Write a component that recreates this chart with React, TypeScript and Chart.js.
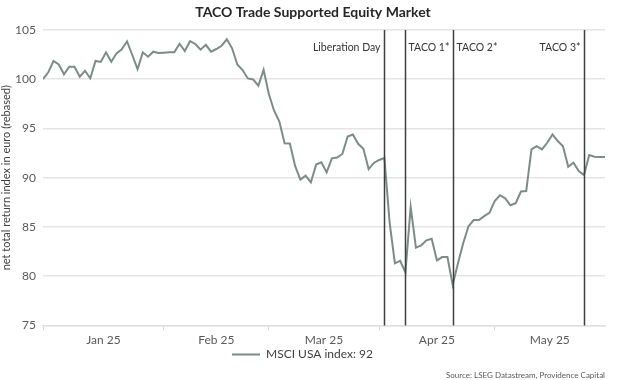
import React, { useEffect, useRef } from "react";
import { Chart, registerables } from "chart.js";

Chart.register(...registerables);

// ---- data (weekday closes, 1 Jan 2025 – 30 May 2025) ----
const msciUsa: number[] = [
  100.0, 100.7, 101.85, 101.5, 100.5, 101.27, 101.27, 100.25, 100.86, 100.1,
  101.85, 101.75, 102.73, 101.78, 102.63, 103.03, 103.85, 102.46, 101.03, 102.73,
  102.29, 102.8, 102.66, 102.7, 102.73, 102.73, 103.6, 102.86, 103.88, 103.58,
  103.0, 103.5, 102.8, 103.07, 103.4, 104.05, 103.14, 101.5, 100.93, 100.08,
  99.98, 99.34, 100.95, 98.5, 96.8, 95.7, 93.5, 93.47, 91.2, 89.8,
  90.2, 89.52, 91.33, 91.56, 90.54, 91.97, 92.04, 92.41, 94.18, 94.39,
  93.44, 92.93, 90.88, 91.5, 91.8, 92.0, 85.4, 81.3, 81.55, 80.38,
  87.04, 82.9, 83.13, 83.64, 83.8, 81.6, 81.94, 81.94, 79.1, 81.3,
  83.34, 85.05, 85.7, 85.7, 86.1, 86.43, 87.62, 88.22, 87.9, 87.2,
  87.42, 88.6, 88.64, 92.87, 93.2, 92.87, 93.55, 94.39, 93.72, 93.2,
  91.1, 91.52, 90.68, 90.27, 92.3, 92.13, 92.1, 92.1,
];
const seriesLabel = "MSCI USA index: 92";

const monthLabels: string[] = ["Jan 25", "Feb 25", "Mar 25", "Apr 25", "May 25"];
const monthStartIndex: number[] = [0, 23, 43, 64, 86];

const yTicks: number[] = [75, 80, 85, 90, 95, 100, 105];

const eventLabels: string[] = ["Liberation Day", "TACO 1*", "TACO 2*", "TACO 3*"];
const eventIndex: number[] = [65, 69, 78, 103];
const eventLabelSide: ("left" | "right")[] = ["left", "right", "right", "left"];

const titleText = "TACO Trade Supported Equity Market";
const yTitle = "net total return index in euro (rebased)";
const sourceText = "Source: LSEG Datastream, Providence Capital";

const FONT = "Lato, 'Open Sans', sans-serif";
const LINE_COLOR = "#7b8c89";

export default function App() {
  const ref = useRef<HTMLCanvasElement | null>(null);

  useEffect(() => {
    if (!ref.current) return;
    const lastIdx = msciUsa.length - 1;
    const boundaries = [...monthStartIndex];
    const mids = monthStartIndex.map((s, i) =>
      (s + (i + 1 < monthStartIndex.length ? monthStartIndex[i + 1] : lastIdx)) / 2
    );
    const tickDefs: { value: number; label: string }[] = [];
    boundaries.forEach((b, i) => {
      tickDefs.push({ value: b, label: "" });
      tickDefs.push({ value: mids[i], label: monthLabels[i] });
    });

    const eventPlugin = {
      id: "eventLines",
      afterDatasetsDraw(chart: any) {
        const { ctx, chartArea, scales } = chart;
        ctx.save();
        eventIndex.forEach((idx, i) => {
          const x = Math.round(scales.x.getPixelForValue(idx)) + 0.5;
          ctx.strokeStyle = "#3f3f3f";
          ctx.lineWidth = 1.5;
          ctx.beginPath();
          ctx.moveTo(x, chartArea.top);
          ctx.lineTo(x, chartArea.bottom);
          ctx.stroke();
          ctx.font = `10.5px ${FONT}`;
          ctx.fillStyle = "#333333";
          ctx.textBaseline = "middle";
          if (eventLabelSide[i] === "left") {
            ctx.textAlign = "right";
            ctx.fillText(eventLabels[i], x - 4, chartArea.top + 18);
          } else {
            ctx.textAlign = "left";
            ctx.fillText(eventLabels[i], x + 3, chartArea.top + 18);
          }
        });
        ctx.restore();
      },
    };

    const pageTitlePlugin = {
      id: "pageTitle",
      afterDraw(chart: any) {
        const { ctx } = chart;
        ctx.save();
        ctx.font = `bold 14px ${FONT}`;
        ctx.fillStyle = "#262626";
        ctx.textAlign = "center";
        ctx.textBaseline = "middle";
        ctx.fillText(titleText, chart.width / 2, 12);
        ctx.restore();
      },
    };

    const chart = new Chart(ref.current, {
      type: "line",
      data: {
        labels: msciUsa.map((_, i) => i),
        datasets: [
          {
            label: seriesLabel,
            data: msciUsa.map((v, i) => ({ x: i, y: v })),
            borderColor: LINE_COLOR,
            backgroundColor: LINE_COLOR,
            borderWidth: 2,
            pointRadius: 0,
            tension: 0,
          },
        ],
      },
      options: {
        animation: false,
        responsive: false,
        maintainAspectRatio: false,
        layout: { padding: { left: 0, right: 21, top: 30, bottom: 0 } },
        scales: {
          x: {
            type: "linear",
            min: 0,
            max: lastIdx,
            afterBuildTicks: (scale: any) => {
              scale.ticks = tickDefs.map((t) => ({ value: t.value }));
            },
            afterFit: (scale: any) => {
              scale.height = 22;
            },
            ticks: {
              autoSkip: false,
              maxRotation: 0,
              padding: 3,
              color: "#595959",
              font: { family: FONT, size: 12 },
              callback: (_v: any, i: number) => tickDefs[i]?.label ?? "",
            },
            grid: {
              drawOnChartArea: false,
              drawTicks: true,
              tickLength: 5,
              tickColor: (c: any) => (c.index % 2 === 0 ? "#d4d4d4" : "rgba(0,0,0,0)"),
            },
            border: { display: true, color: "#e4dfdf", width: 1.5 },
          },
          y: {
            min: 75,
            max: 105,
            afterBuildTicks: (scale: any) => {
              scale.ticks = yTicks.map((v) => ({ value: v }));
            },
            afterFit: (scale: any) => {
              scale.width = 43;
            },
            ticks: {
              color: "#595959",
              font: { family: FONT, size: 12 },
              padding: 7,
            },
            grid: { color: "#e8e3e3", lineWidth: 1.5, drawTicks: false },
            border: { display: false },
            title: {
              display: true,
              text: yTitle,
              color: "#404040",
              font: { family: FONT, size: 11 },
              padding: { top: 0, bottom: 2 },
            },
          },
        },
        plugins: {
          title: { display: false },
          subtitle: {
            display: true,
            position: "bottom",
            align: "end",
            text: sourceText,
            color: "#595959",
            font: { family: FONT, size: 8 },
            padding: { top: 0, bottom: 0 },
          },
          legend: {
            display: true,
            position: "bottom",
            labels: {
              usePointStyle: true,
              pointStyle: "line",
              pointStyleWidth: 28,
              color: "#404040",
              font: { family: FONT, size: 12 },
              padding: 1,
            },
          },
          tooltip: { enabled: false },
        },
      },
      plugins: [eventPlugin, pageTitlePlugin],
    });
    return () => chart.destroy();
  }, []);

  return (
    <div style={{ position: "fixed", left: 0, top: 0, width: 626, height: 380, background: "#fff" }}>
      <canvas ref={ref} width={626} height={380} style={{ width: 626, height: 380 }} />
    </div>
  );
}
